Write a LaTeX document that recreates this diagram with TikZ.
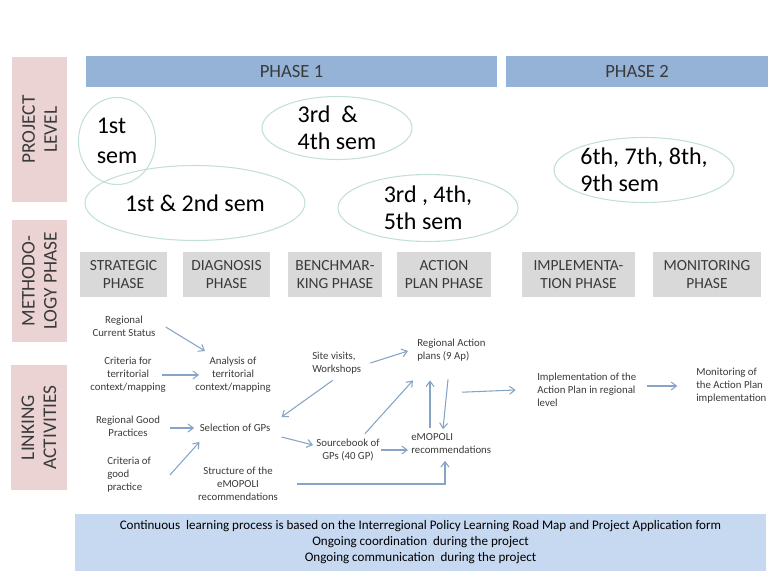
\documentclass[tikz,border=0pt]{standalone}
\usepackage{fontspec}
\setmainfont{Carlito}
\usetikzlibrary{arrows.meta,shapes.geometric}
\definecolor{pinkc}{HTML}{EBD3D3}
\definecolor{barc}{HTML}{95B3D7}
\definecolor{grayc}{HTML}{D9D9D9}
\definecolor{botc}{HTML}{C6D9F1}
\definecolor{txtc}{HTML}{3A3A3A}
\definecolor{ellc}{HTML}{C2DFDA}
\definecolor{arrc}{HTML}{86A4C6}
\tikzset{
  lbl/.style={fill=pinkc, text=txtc, rotate=90, align=center, inner sep=0pt,
    font=\fontsize{14.5}{16.5}\selectfont},
  bar/.style={fill=barc, text=txtc, inner sep=0pt, minimum height=23.25pt,
    font=\fontsize{14}{16}\selectfont},
  gbox/.style={fill=grayc, text=txtc, align=center, inner sep=0pt, minimum height=33.75pt,
    font=\fontsize{11.6}{13.5}\selectfont},
  ell/.style={ellipse, draw=ellc, line width=0.8pt, text=black, align=left, inner sep=0pt,
    font=\fontsize{18}{20.5}\selectfont},
  sm/.style={text=txtc, inner sep=0pt, font=\fontsize{8.1}{9.75}\selectfont},
  arr/.style={draw=arrc, line width=0.8pt, -{Straight Barb[length=4pt,width=6pt]}},
  bot/.style={fill=botc, text=black, align=center, inner sep=0pt,
    font=\fontsize{9.8}{12}\selectfont}
}
\begin{document}
\begin{tikzpicture}[x=0.75pt,y=-0.75pt]
\useasboundingbox (0,0) rectangle (768,571);
% left labels
\node[lbl, minimum width=108.75pt, minimum height=41.25pt] (pl) at (39.5,129.5) {PROJECT\\LEVEL};
\node[lbl, minimum width=91.5pt, minimum height=41.25pt] (ml) at (39.5,281) {METHODO-\\LOGY PHASE};
\node[lbl, minimum width=93.75pt, minimum height=42pt] (la) at (39,427.5) {LINKING\\ACTIVITIES};
% phase bars
\node[bar, minimum width=308.25pt] (p1) at (291.5,71.5) {PHASE 1};
\node[bar, minimum width=196.5pt] (p2) at (637,71.5) {PHASE 2};
% ellipses
\node[ell, minimum width=57.75pt, minimum height=65.25pt, font=\fontsize{18}{22.5}\selectfont] (e1) at (117,141) {1st\\sem};
\node[ell, minimum width=165pt, minimum height=56.25pt] (e2) at (195,203) {1st \& 2nd sem};
\node[ell, minimum width=112.5pt, minimum height=47.25pt] (e3) at (337,128) {3rd \ \&\\4th sem};
\node[ell, minimum width=135pt, minimum height=50.25pt] (e4) at (428,208) {3rd , 4th,\\5th sem};
\node[ell, minimum width=135pt, minimum height=48.75pt] (e5) at (644,170) {6th, 7th, 8th,\\9th sem};
% methodology phases
\node[gbox, minimum width=65.25pt] (g1) at (123.5,274.5) {STRATEGIC\\PHASE};
\node[gbox, minimum width=65.25pt] (g2) at (226.5,274.5) {DIAGNOSIS\\PHASE};
\node[gbox, minimum width=70.5pt] (g3) at (335,274.5) {BENCHMAR-\\KING PHASE};
\node[gbox, minimum width=70.5pt] (g4) at (444,274.5) {ACTION\\PLAN PHASE};
\node[gbox, minimum width=84.75pt] (g5) at (578.5,274.5) {IMPLEMENTA-\\TION PHASE};
\node[gbox, minimum width=81pt] (g6) at (707,274.5) {MONITORING\\PHASE};
% linking activities texts
\node[sm, align=center] (rcs) at (124,326) {Regional\\Current Status};
\node[sm, align=center] (cft) at (128,375) {Criteria for\\territorial\\context/mapping};
\node[sm, align=center] (ana) at (233,375) {Analysis of\\territorial\\context/mapping};
\node[sm, align=center] (rgp) at (128,426) {Regional Good\\Practices};
\node[sm, align=center] (sel) at (235,428) {Selection of GPs};
\node[sm, align=left, anchor=west] (cgp) at (107,475) {Criteria of\\good\\practice};
\node[sm, align=center] (str) at (238,484) {Structure of the\\eMOPOLI\\recommendations};
\node[sm, align=left, anchor=west] (site) at (312,363) {Site visits,\\Workshops};
\node[sm, align=left, anchor=west] (rap) at (417,350) {Regional Action\\plans (9 Ap)};
\node[sm, align=center] (src) at (348,450) {Sourcebook of\\GPs (40 GP)};
\node[sm, align=left, anchor=west] (emo) at (411,443.5) {eMOPOLI\\recommendations};
\node[sm, align=left, anchor=west] (impl) at (537,390) {Implementation of the\\Action Plan in regional\\level};
\node[sm, align=left, anchor=west] (mon) at (696,386) {Monitoring of\\the Action Plan\\implementation};
% arrows
\draw[arr] ([shift={(10,1)}]rcs.east) -- ([shift={(10,-6)}]ana.north west);
\draw[arr] ([xshift=-3]cft.east) -- ([xshift=3]ana.west);
\draw[arr] ([shift={(10,2)}]rgp.east) -- ([xshift=-4]sel.west);
\draw[arr] ([xshift=14]cgp.east) -- ([shift={(0,18)}]sel.north west);
\draw[arr] ([shift={(-4,6)}]site.south) -- ([shift={(11,-11)}]sel.east);
\draw[arr] ([shift={(9,0)}]site.east) -- ([shift={(-9,1)}]rap.west);
\draw[arr] ([shift={(11,9)}]sel.east) -- ([shift={(-3,-5)}]src.west);
\draw[arr] ([shift={(-15,-5)}]src.north east) -- ([shift={(-4,19)}]rap.south west);
\draw[arr] ([xshift=1]src.east) -- ([shift={(-3,6.5)}]emo.west);
\draw[arr] ([shift={(19,-5)}]emo.north west) -- ([shift={(13,19)}]rap.south west);
\draw[arr] ([shift={(31,18)}]rap.south west) -- ([shift={(32,-4)}]emo.north west);
\draw[arr] ([xshift=14]str.east) -| ([shift={(34,7)}]emo.south west);
\draw[arr] ([shift={(51,-41)}]emo.north west) -- ([xshift=-16]impl.west);
\draw[arr] ([shift={(11,-4)}]impl.east) -- ([xshift=-14]mon.west);
% bottom box
\node[bot, minimum width=518.25pt, minimum height=42.75pt] (bb) at (420.5,542.5)
  {Continuous \ learning process is based on the Interregional Policy Learning Road Map and Project Application form\\
   Ongoing coordination \ during the project\\
   Ongoing communication \ during the project};
\end{tikzpicture}
\end{document}
